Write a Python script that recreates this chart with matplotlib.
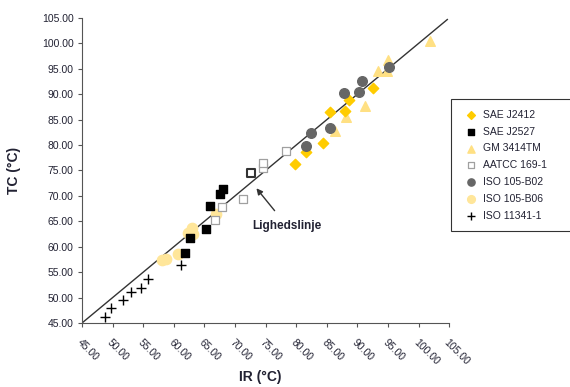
import matplotlib
matplotlib.use("Agg")
import matplotlib.pyplot as plt

plt.rcParams["font.family"] = ["Liberation Sans Narrow", "Liberation Sans", "DejaVu Sans"]

# ── data (IR vs TC, °C) ──────────────────────────────────────────────────────
sae_j2412_ir = [79.8, 81.6, 84.4, 85.5, 88.0, 88.7, 92.5]
sae_j2412_tc = [76.2, 78.7, 80.4, 86.6, 86.8, 88.9, 91.3]

sae_j2527_ir = [61.9, 62.6, 65.2, 65.9, 67.5, 68.0]
sae_j2527_tc = [58.8, 61.8, 63.5, 68.0, 70.3, 71.3]

gm_ir = [86.3, 88.1, 91.2, 93.4, 94.8, 95.05, 101.9]
gm_tc = [82.8, 85.5, 87.6, 94.5, 94.5, 96.8, 100.4]

aatcc_ir = [66.7, 67.9, 71.25, 74.5, 74.6, 78.3]
aatcc_tc = [65.3, 67.9, 69.35, 75.45, 76.55, 78.9]

# highlighted (bold) AATCC point
aatcc_hl_ir = [72.6]
aatcc_hl_tc = [74.5]

b02_ir = [81.55, 82.4, 85.6, 87.8, 90.3, 90.8, 95.2]
b02_tc = [79.9, 82.3, 83.3, 90.2, 90.5, 92.6, 95.45]

b06_ir = [58.0, 58.7, 60.7, 62.4, 62.9, 63.2, 66.9]
b06_tc = [57.4, 57.5, 58.6, 62.65, 63.6, 62.5, 66.4]

iso11341_ir = [48.76, 49.7, 51.75, 52.95, 54.6, 55.8, 61.1]
iso11341_tc = [46.1, 47.9, 49.5, 51.0, 51.95, 53.6, 56.4]

ticks = [45, 50, 55, 60, 65, 70, 75, 80, 85, 90, 95, 100, 105]
tick_labels = [f"{t:.2f}" for t in ticks]

fig = plt.figure(figsize=(5.7, 3.87), dpi=100)
ax = fig.add_axes([0.1439, 0.1654, 0.788 - 0.1439, 0.9535 - 0.1654])

# line of equality
ax.plot([45, 104.7], [45, 104.7], color="#333333", lw=1.0, zorder=1)

ax.scatter(sae_j2412_ir, sae_j2412_tc, marker="D", s=28, color="#FFCC00",
           label="SAE J2412", zorder=3)
ax.scatter(sae_j2527_ir, sae_j2527_tc, marker="s", s=32, color="black",
           label="SAE J2527", zorder=3)
ax.scatter(gm_ir, gm_tc, marker="^", s=48, color="#FFE083",
           label="GM 3414TM", zorder=2)
ax.scatter(aatcc_ir, aatcc_tc, marker="s", s=30, facecolor="white",
           edgecolor="#A0A0A0", linewidths=0.9, label="AATCC 169-1", zorder=3)
ax.scatter(aatcc_hl_ir, aatcc_hl_tc, marker="s", s=40, facecolor="white",
           edgecolor="#333333", linewidths=1.5, zorder=3)
ax.scatter(b02_ir, b02_tc, marker="o", s=48, color="#666666",
           label="ISO 105-B02", zorder=3)
ax.scatter(b06_ir, b06_tc, marker="o", s=55, color="#FFE69A",
           label="ISO 105-B06", zorder=2)
ax.scatter(iso11341_ir, iso11341_tc, marker="+", s=55, color="black",
           linewidths=1.0, label="ISO 11341-1", zorder=3)

ax.annotate("Lighedslinje", xy=(73.5, 71.5), xytext=(78.5, 64.1),
            ha="center", va="center", fontsize=8.5, fontweight="bold",
            color="#222233",
            arrowprops=dict(arrowstyle="-|>", color="#333333", lw=1.0,
                            shrinkA=6, shrinkB=0, mutation_scale=9))

ax.set_xlim(45, 105)
ax.set_ylim(45, 105)
ax.set_xticks(ticks)
ax.set_yticks(ticks)
ax.set_xticklabels(tick_labels, rotation=-45, ha="left", va="top",
                   rotation_mode="anchor")
ax.set_yticklabels(tick_labels)
ax.tick_params(axis="both", direction="out", length=3, width=0.8,
               color="#555555", labelsize=7.5, labelcolor="#222233")
ax.tick_params(axis="x", pad=7)
ax.tick_params(axis="y", pad=3)

for side in ("top", "right"):
    ax.spines[side].set_visible(False)
for side in ("left", "bottom"):
    ax.spines[side].set_color("#555555")
    ax.spines[side].set_linewidth(0.8)

ax.set_xlabel("IR (°C)", fontsize=10, fontweight="bold", color="#222233")
ax.set_ylabel("TC (°C)", fontsize=10, fontweight="bold", color="#222233")
ax.xaxis.set_label_coords(0.485, -0.155)
ax.yaxis.set_label_coords(-0.165, 0.5)

leg = ax.legend(loc="upper left", bbox_to_anchor=(0.791, 0.404, 0.25, 0.339),
                bbox_transform=fig.transFigure, mode="expand", borderaxespad=0,
                fontsize=7.5, frameon=True, fancybox=False, labelspacing=0.65,
                handletextpad=0.3, borderpad=1.0, handlelength=1.8,
                markerscale=0.75)
leg.get_frame().set_edgecolor("black")
leg.get_frame().set_linewidth(0.8)
for t in leg.get_texts():
    t.set_color("#222233")

fig.savefig("out.png", dpi=100)
